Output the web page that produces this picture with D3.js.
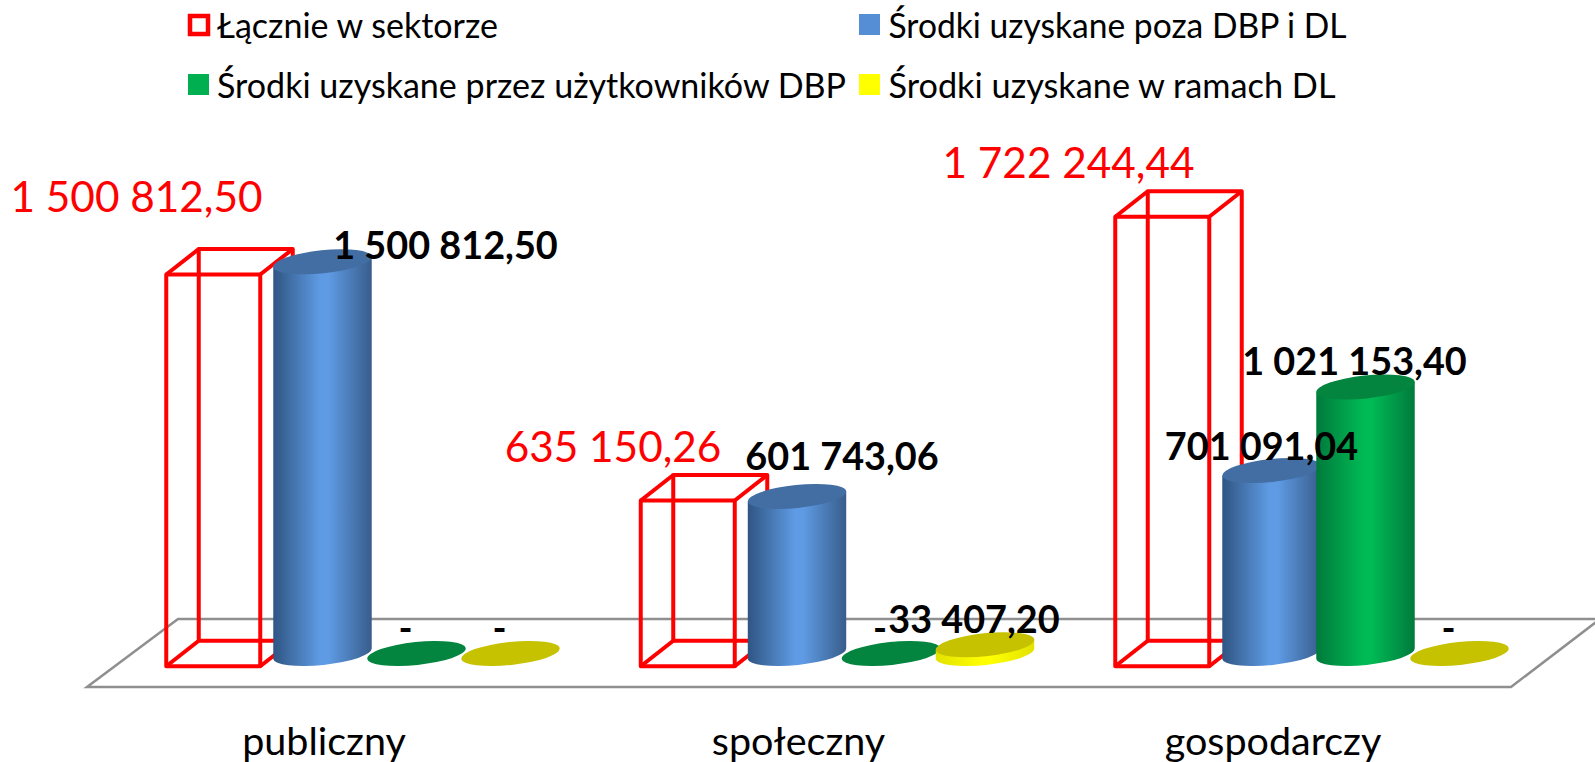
<!DOCTYPE html>
<html lang="pl">
<head>
    <title>Środki w sektorach</title>
    <meta charset="utf-8">
    <script src="https://d3js.org/d3.v7.min.js"></script>
    <style>
        * {
            margin: 0;
            padding: 0;
        }
        body {
            background-color: white;
            overflow: hidden;
        }
        svg {
            display: block;
        }
        text {
            font-family: Lato, 'Open Sans', sans-serif;
        }
    </style>
</head>
<body>
<div id="container"></div>
<script>
    const categories = ["publiczny", "społeczny", "gospodarczy"];
    const seriesNames = ["Łącznie w sektorze", "Środki uzyskane poza DBP i DL", "Środki uzyskane przez użytkowników DBP", "Środki uzyskane w ramach DL"];
    const totalValues = [1500812.50, 635150.26, 1722244.44];
    const outsideValues = [1500812.50, 601743.06, 701091.04];
    const dbpValues = [0, 0, 1021153.40];
    const dlValues = [0, 33407.20, 0];

    const w = 1595;
    const h = 762;
    const depthX = 16.25;
    const depthY = 12.75;
    const rx = 49.5;
    const ry = 11.5;
    const tilt = -6;

    const x0 = d3.scaleBand().domain(categories).range([182.5, 1507.5]).paddingInner(0.2076);
    const x1 = d3.scaleBand().domain(seriesNames).range([0, x0.bandwidth()]);
    const y = d3.scaleLinear().domain([0, 1722244.44]).range([653.5, 204]);

    const plFormat = d3.formatLocale({decimal: ",", thousands: " ", grouping: [3], currency: ["", ""]}).format(",.2f");
    const fmt = v => v === 0 ? "-" : plFormat(v);
    const center = (cat, name) => x0(cat) + x1(name) + x1.bandwidth() / 2;

    const svg = d3.select("#container").append("svg").attr("width", w).attr("height", h);

    // gradients for the cylinders
    const defs = svg.append("defs");
    const addGrad = (id, edgeL, mid, edgeR) => {
        const g = defs.append("linearGradient").attr("id", id);
        [[0, edgeL], [0.48, mid], [0.56, mid], [1, edgeR]].forEach(s => {
            g.append("stop").attr("offset", s[0]).attr("stop-color", s[1]);
        });
    };
    addGrad("gradBlue", "#2f5583", "#5f9be4", "#385d8c");
    addGrad("gradGreen", "#007a3c", "#00ba55", "#007a3c");
    addGrad("gradYellow", "#e2e200", "#ffff00", "#e2e200");

    // floor
    svg.append("path")
        .attr("d", d3.line()([[87, 687], [178, 619], [1600, 619], [1600, 619], [1511, 687]]) + "Z")
        .attr("fill", "white")
        .attr("stroke", "#8f8f8f")
        .attr("stroke-width", 2.5);

    // red wireframe boxes
    const boxes = svg.append("g")
        .attr("fill", "none")
        .attr("stroke", "#ff0000")
        .attr("stroke-width", 4)
        .attr("stroke-linejoin", "round");

    categories.forEach((cat, i) => {
        const c = center(cat, seriesNames[0]);
        const bw = x1.bandwidth();
        const l = c - depthX - bw / 2;
        const r = c - depthX + bw / 2;
        const t = y(totalValues[i]) + depthY;
        const b = y(0) + depthY;
        const dx = depthX * 2;
        const dy = depthY * 2;
        boxes.append("rect").attr("x", l + dx).attr("y", t - dy).attr("width", bw).attr("height", b - t);
        boxes.append("rect").attr("x", l).attr("y", t).attr("width", bw).attr("height", b - t);
        [[l, t], [r, t], [l, b], [r, b]].forEach(p => {
            boxes.append("line").attr("x1", p[0]).attr("y1", p[1]).attr("x2", p[0] + dx).attr("y2", p[1] - dy);
        });
    });

    // cylinders
    const cylinders = [
        {name: seriesNames[1], values: outsideValues, grad: "gradBlue", top: "#436ea3"},
        {name: seriesNames[2], values: dbpValues, grad: "gradGreen", top: "#04853f"},
        {name: seriesNames[3], values: dlValues, grad: "gradYellow", top: "#c6c200"}
    ];
    const ex = rx * Math.cos(tilt * Math.PI / 180);
    const ey = rx * Math.sin(tilt * Math.PI / 180);

    cylinders.forEach(s => {
        const g = svg.append("g");
        categories.forEach((cat, i) => {
            const c = center(cat, s.name) - 1;
            const t = y(s.values[i]);
            const b = y(0);
            if (s.values[i] > 0) {
                g.append("path")
                    .attr("d", `M${c - ex},${t - ey}L${c - ex},${b - ey}A${rx},${ry} ${tilt} 0 0 ${c + ex},${b + ey}L${c + ex},${t + ey}Z`)
                    .attr("fill", `url(#${s.grad})`);
            }
            g.append("ellipse")
                .attr("transform", `translate(${c},${t}) rotate(${tilt})`)
                .attr("rx", rx)
                .attr("ry", ry)
                .attr("fill", s.top);
        });
    });

    // value labels, most sit just up and left of their mark
    const redNudge = [[-93, -50], [-91, -26], [-110, -26]];
    const blackNudge = [[122, -3], [44, -26], [-11, -11]];

    const redLabels = svg.append("g").attr("fill", "#ff0000").attr("font-size", 42.3).attr("text-anchor", "middle");
    categories.forEach((cat, i) => {
        redLabels.append("text")
            .attr("x", center(cat, seriesNames[0]) + redNudge[i][0])
            .attr("y", y(totalValues[i]) + redNudge[i][1])
            .text(fmt(totalValues[i]));
    });

    const blackLabels = svg.append("g").attr("fill", "black").attr("font-size", 37.8).attr("font-weight", 700).attr("text-anchor", "middle");
    cylinders.forEach((s, si) => {
        categories.forEach((cat, i) => {
            const nudge = si === 0 ? blackNudge[i] : [-12, -12];
            blackLabels.append("text")
                .attr("x", center(cat, s.name) + nudge[0])
                .attr("y", y(s.values[i]) + nudge[1])
                .text(fmt(s.values[i]));
        });
    });

    // category labels
    svg.append("g").selectAll("text")
        .data(categories)
        .enter()
        .append("text")
        .attr("x", d => x0(d) + x0.bandwidth() / 2 - 46.5)
        .attr("y", 755)
        .attr("font-size", 39.5)
        .attr("text-anchor", "middle")
        .attr("fill", "black")
        .text(d => d);

    // legend
    const legendSpots = [[188, 38], [859, 38], [188, 98], [859, 98]];
    const legendColors = ["none", "#558ed5", "#00b050", "#ffff00"];
    const legendWidths = [281, 458, 629, 447];
    const legend = svg.append("g");
    seriesNames.forEach((name, i) => {
        const p = legendSpots[i];
        legend.append("rect")
            .attr("x", i === 0 ? p[0] + 2 : p[0])
            .attr("y", i === 0 ? p[1] - 22 : p[1] - 24)
            .attr("width", i === 0 ? 18 : 21)
            .attr("height", i === 0 ? 18 : 21)
            .attr("fill", i === 0 ? "white" : legendColors[i])
            .attr("stroke", i === 0 ? "#ff0000" : "none")
            .attr("stroke-width", 4.5);
        legend.append("text")
            .attr("x", i % 2 ? p[0] + 29.5 : p[0] + 29)
            .attr("y", p[1])
            .attr("font-size", 34)
            .attr("fill", "black")
            .attr("textLength", legendWidths[i])
            .attr("lengthAdjust", "spacingAndGlyphs")
            .text(name);
    });
</script>
</body>
</html>
